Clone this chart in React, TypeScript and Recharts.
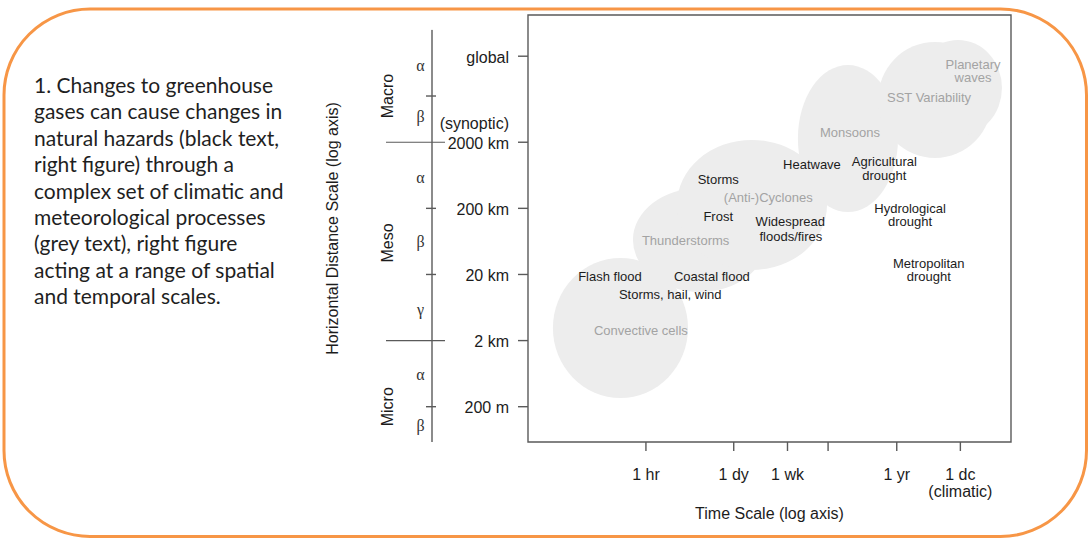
import React from 'react'
import { ScatterChart, Scatter, XAxis, YAxis, ReferenceArea } from 'recharts'

// time scale in hours, distance scale in km (both log axes)
const TIME_TICKS = [1, 24, 168, 730, 8766, 87660]
const TIME_TICK_LABELS = ['1 hr', '1 dy', '1 wk', '', '1 yr', '1 dc\n(climatic)']
const DIST_TICKS = [0.2, 2, 20, 200, 2000, 40000]
const DIST_TICK_LABELS = ['200 m', '2 km', '20 km', '200 km', '2000 km', 'global']
const SYNOPTIC_KM = 2000

const TIME_RANGE = [0.014, 548000]
const DIST_RANGE = [0.0585, 168000]

// Orlanski scale classes on the left
const ZONE_TOP_KM = 100000
const ZONE_MINOR_KM = [10000, 200, 20, 0.2]
const ZONE_MAJOR_KM = [2000, 2]
const SUB_LETTERS = ['α', 'β', 'α', 'β', 'γ', 'α', 'β']
const SUB_KM = [28000, 4800, 570, 62, 5.8, 0.59, 0.102]
const CLASS_NAMES = ['Macro', 'Meso', 'Micro']
const CLASS_KM = [10000, 60, 0.2]

// grey process bubbles (time span x distance span)
const BUBBLE_NAMES = ['Convective cells', 'Thunderstorms', '(Anti-)Cyclones', 'Monsoons', 'SST Variability', 'Planetary waves']
const BUBBLE_HR_FROM = [0.0345, 0.625, 3.07, 245, 4450, 16400]
const BUBBLE_HR_TO = [4.58, 80, 702, 9170, 275000, 395000]
const BUBBLE_KM_FROM = [0.271, 10.9, 23.4, 176, 1157, 2490]
const BUBBLE_KM_TO = [35.5, 407, 2170, 29500, 65800, 70600]

// labels: hazards in black, processes in grey
const LABEL_TEXT = [
  'Planetary', 'waves', 'SST Variability', 'Monsoons', 'Heatwave', 'Agricultural', 'drought',
  'Storms', '(Anti-)Cyclones', 'Frost', 'Widespread', 'floods/fires', 'Hydrological', 'drought',
  'Thunderstorms', 'Metropolitan', 'drought', 'Flash flood', 'Coastal flood', 'Storms, hail, wind',
  'Convective cells',
]
const LABEL_HR = [
  138700, 138700, 28200, 1610, 407, 5600, 5600,
  13.7, 83.7, 13.7, 186, 190, 14200, 14200,
  4.21, 27900, 27900, 0.272, 10.9, 2.41,
  0.834,
]
const LABEL_KM = [
  30600, 18970, 9680, 2790, 940, 1032, 640,
  557, 294, 153, 126, 74.6, 203, 125.8,
  66.5, 29.5, 18.5, 18.5, 18.5, 10,
  2.89,
]
const LABEL_PROCESS = [
  true, true, true, true, false, false, false,
  false, true, false, false, false, false, false,
  true, false, false, false, false, false,
  true,
]

const INTRO_LINES = [
  '1. Changes to greenhouse',
  'gases can cause changes in',
  'natural hazards (black text,',
  'right figure) through a',
  'complex set of climatic and',
  'meteorological processes',
  '(grey text), right figure',
  'acting at a range of spatial',
  'and temporal scales.',
]

const FONT = '"Liberation Sans", Arial, sans-serif'
const INK = '#1c1c1c'
const GREY_TEXT = '#a3a3a3'
const BUBBLE = '#ededed'
const FRAME = '#5a5a5a'
const ORANGE = '#f79646'

const labels = LABEL_TEXT.map((text, i) => ({
  hr: LABEL_HR[i],
  km: LABEL_KM[i],
  text,
  process: LABEL_PROCESS[i],
}))

const zoneTicks = Array.from(
  new Set([ZONE_TOP_KM, ...ZONE_MINOR_KM, ...ZONE_MAJOR_KM, ...SUB_KM, ...CLASS_KM])
).sort((a, b) => a - b)

const TimeTick = (props: any) => {
  const { x, y, payload } = props
  const label = TIME_TICK_LABELS[TIME_TICKS.indexOf(payload.value)] || ''
  return (
    <text x={x} y={y} textAnchor="middle" fontFamily={FONT} fontSize={16} fill={INK}>
      {label.split('\n').map((line, k) => (
        <tspan key={k} x={x} dy={k === 0 ? 27 : 17}>
          {line}
        </tspan>
      ))}
    </text>
  )
}

const DistTick = (props: any) => {
  const { x, y, payload } = props
  const label = DIST_TICK_LABELS[DIST_TICKS.indexOf(payload.value)] || ''
  return (
    <g>
      <text x={x} y={y + 6.5} textAnchor="end" fontFamily={FONT} fontSize={16} fill={INK}>
        {label}
      </text>
      {payload.value === SYNOPTIC_KM && (
        <text x={x} y={y - 13.5} textAnchor="end" fontFamily={FONT} fontSize={16} fill={INK}>
          (synoptic)
        </text>
      )}
    </g>
  )
}

const ZoneTick = (props: any) => {
  const { x, y, payload } = props
  const v = payload.value
  const parts: any[] = []
  // the class line starts at the top of the macro scale, hide the axis line above it
  if (v === ZONE_TOP_KM) {
    parts.push(<line key="mask" x1={x} x2={x} y1={y - 40} y2={y} stroke="#fff" strokeWidth={4} />)
  }
  if (ZONE_MINOR_KM.includes(v)) {
    parts.push(<line key="minor" x1={x - 6} x2={x + 4} y1={y} y2={y} stroke={FRAME} strokeWidth={1.4} />)
  }
  if (ZONE_MAJOR_KM.includes(v)) {
    parts.push(<line key="major" x1={x - 46} x2={x + 13} y1={y} y2={y} stroke={FRAME} strokeWidth={1.2} />)
  }
  const s = SUB_KM.indexOf(v)
  if (s >= 0) {
    parts.push(
      <text key="sub" x={x - 11.5} y={y} dy="0.3em" textAnchor="middle" fontFamily='"Liberation Serif", serif' fontSize={16} fill="#333">
        {SUB_LETTERS[s]}
      </text>
    )
  }
  const c = CLASS_KM.indexOf(v)
  if (c >= 0) {
    parts.push(
      <text key="cls" x={x - 45} y={y} dy="0.35em" transform={`rotate(-90 ${x - 45} ${y})`} textAnchor="middle" fontFamily={FONT} fontSize={16} fill={INK}>
        {CLASS_NAMES[c]}
      </text>
    )
  }
  return <g>{parts}</g>
}

const ZoneTitle = (props: any) => {
  const vb = props.viewBox || { x: 332, y: 15, width: 100, height: 427 }
  const cx = vb.x
  const cy = vb.y + vb.height / 2
  return (
    <text x={cx} y={cy} dy="0.35em" transform={`rotate(-90 ${cx} ${cy})`} textAnchor="middle" fontFamily={FONT} fontSize={16} fill={INK}>
      Horizontal Distance Scale (log axis)
    </text>
  )
}

const TimeTitle = (props: any) => {
  const vb = props.viewBox || { x: 528, y: 442, width: 483, height: 90 }
  return (
    <text x={vb.x + vb.width / 2} y={vb.y + 77} textAnchor="middle" fontFamily={FONT} fontSize={16} fill={INK}>
      Time Scale (log axis)
    </text>
  )
}

const bubbleShape = (p: any) => (
  <ellipse
    cx={p.x + p.width / 2}
    cy={p.y + p.height / 2}
    rx={Math.abs(p.width) / 2}
    ry={Math.abs(p.height) / 2}
    fill={BUBBLE}
  />
)

const LabelShape = (props: any) => {
  const { cx, cy, payload } = props
  return (
    <text x={cx} y={cy} dy="0.36em" textAnchor="middle" fontFamily={FONT} fontSize={13} fill={payload.process ? GREY_TEXT : INK}>
      {payload.text}
    </text>
  )
}

export default function App() {
  return (
    <div style={{ position: 'absolute', left: 0, top: 0, width: 1090, height: 540, background: '#fff', overflow: 'hidden' }}>
      {/* intro paragraph */}
      <svg width={320} height={540} style={{ position: 'absolute', left: 0, top: 0 }}>
        {INTRO_LINES.map((line, i) => (
          <text key={i} x={34} y={93 + i * 26.4} fontFamily="Lato, 'Open Sans', sans-serif" fontSize={21} fill="#1f1f1f">
            {line}
          </text>
        ))}
      </svg>

      <div style={{ position: 'absolute', left: 0, top: 0 }}>
        <ScatterChart width={1090} height={540} margin={{ top: 15, right: 79, bottom: 8, left: 332 }}>
          <XAxis
            xAxisId="time"
            dataKey="hr"
            type="number"
            scale="log"
            domain={TIME_RANGE}
            allowDataOverflow
            ticks={TIME_TICKS}
            interval={0}
            height={90}
            axisLine={false}
            tickLine={{ stroke: FRAME, strokeWidth: 1.4 }}
            tickSize={9}
            tickMargin={2}
            tick={(p: any) => <TimeTick {...p} />}
            label={<TimeTitle />}
          />
          <YAxis
            yAxisId="dist"
            dataKey="km"
            type="number"
            scale="log"
            domain={DIST_RANGE}
            allowDataOverflow
            ticks={DIST_TICKS}
            interval={0}
            width={96}
            axisLine={false}
            tickLine={{ stroke: FRAME, strokeWidth: 1.4 }}
            tickSize={10}
            tickMargin={9}
            tick={(p: any) => <DistTick {...p} />}
          />
          <YAxis
            yAxisId="zone"
            type="number"
            scale="log"
            domain={DIST_RANGE}
            allowDataOverflow
            ticks={zoneTicks}
            interval={0}
            width={100}
            axisLine={{ stroke: FRAME, strokeWidth: 1.4 }}
            tickLine={false}
            tickSize={0}
            tickMargin={0}
            tick={(p: any) => <ZoneTick {...p} />}
            label={<ZoneTitle />}
          />

          {BUBBLE_NAMES.map((name, i) => (
            <ReferenceArea
              key={name}
              xAxisId="time"
              yAxisId="dist"
              x1={BUBBLE_HR_FROM[i]}
              x2={BUBBLE_HR_TO[i]}
              y1={BUBBLE_KM_FROM[i]}
              y2={BUBBLE_KM_TO[i]}
              ifOverflow="visible"
              shape={bubbleShape}
            />
          ))}

          {/* plot frame */}
          <ReferenceArea
            xAxisId="time"
            yAxisId="dist"
            x1={TIME_RANGE[0]}
            x2={TIME_RANGE[1]}
            y1={DIST_RANGE[0]}
            y2={DIST_RANGE[1]}
            ifOverflow="visible"
            fill="none"
            fillOpacity={0}
            stroke={FRAME}
            strokeWidth={1.4}
          />

          <Scatter
            xAxisId="time"
            yAxisId="dist"
            data={labels}
            isAnimationActive={false}
            shape={(p: any) => <LabelShape {...p} />}
          />
        </ScatterChart>
      </div>

      {/* rounded orange border */}
      <svg width={1090} height={540} style={{ position: 'absolute', left: 0, top: 0, pointerEvents: 'none' }}>
        <rect x={4} y={9} width={1082.5} height={527.5} rx={86} ry={86} fill="none" stroke={ORANGE} strokeWidth={3} />
      </svg>
    </div>
  )
}
